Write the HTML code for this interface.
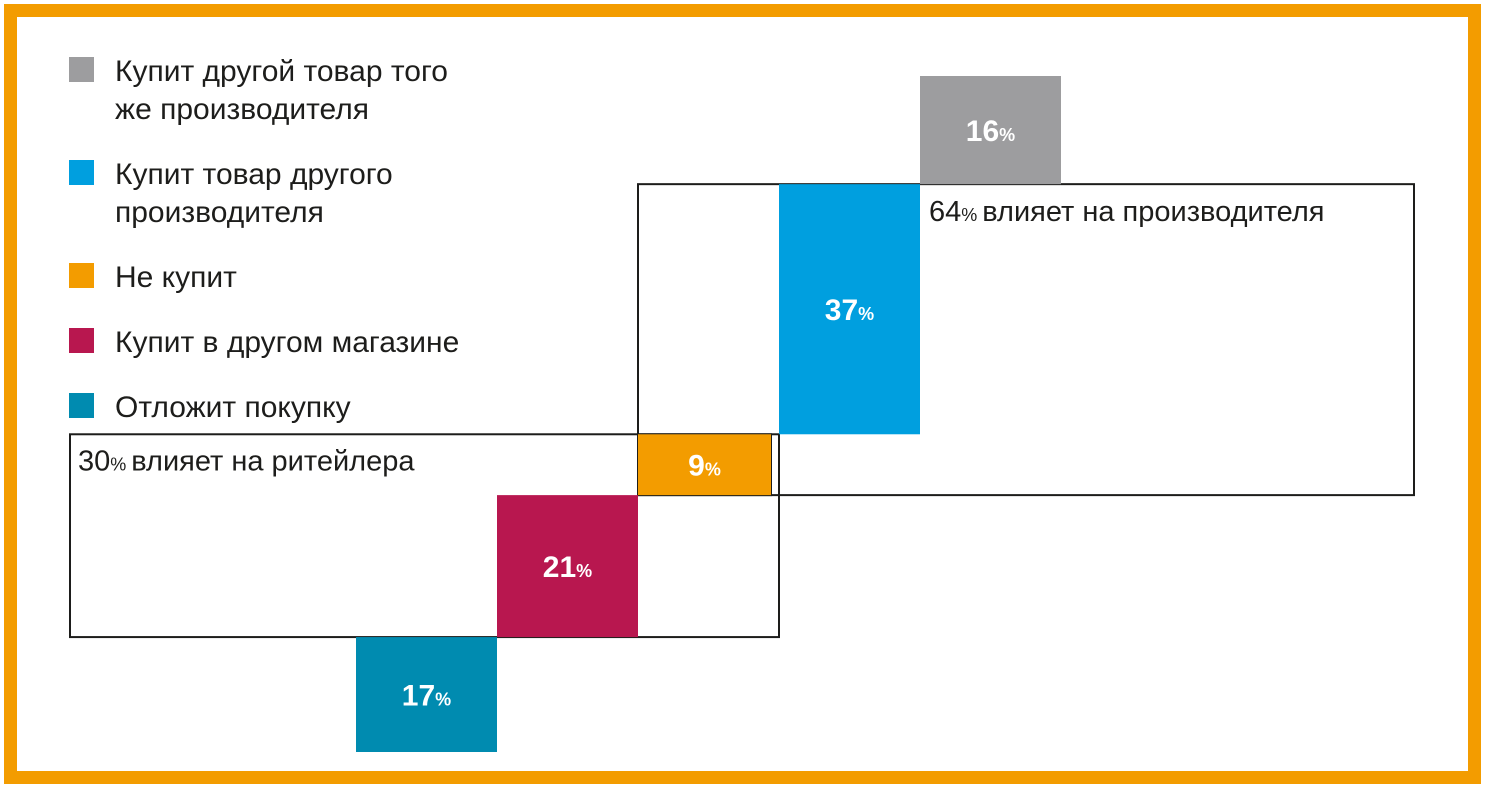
<!DOCTYPE html>
<html><head><meta charset="utf-8"><style>
html,body{margin:0;padding:0;background:#fff}
svg{display:block;font-family:"Liberation Sans",Arial,sans-serif}
</style></head><body>
<svg id="c" width="1486" height="789" viewBox="0 0 1486 789">
<rect x="10.5" y="10.5" width="1464" height="767" fill="#fff" stroke="#f39c00" stroke-width="13"/>
<g id="legend"></g>
<g id="boxes"></g>
<g id="bars"></g>
</svg>
<script>
const categories=["Отложит покупку","Купит в другом магазине","Не купит","Купит товар другого производителя","Купит другой товар того же производителя"];
const values=[17,21,9,37,16];
const colors=["#008bb0","#b8174f","#f39c00","#009fdf","#9d9d9f"];
const legendOrder=[4,3,2,1,0];
const legendLines=[["Купит другой товар того","же производителя"],["Купит товар другого","производителя"],["Не купит"],["Купит в другом магазине"],["Отложит покупку"]];
const retailerShare=30, producerShare=64;
const NS="http://www.w3.org/2000/svg";
const x0=356, barW=141, yBase=752, pxPer=6.76;
const xAt=i=>x0+i*barW;
function yAt(v){return yBase-v*pxPer;}
function mk(t,a,p){const e=document.createElementNS(NS,t);for(const k in a)e.setAttribute(k,a[k]);p.appendChild(e);return e;}
const bars=document.getElementById('bars'), boxes=document.getElementById('boxes'), leg=document.getElementById('legend');
let cum=0; const tops=[],bots=[];
values.forEach((v,i)=>{
  const yb=yAt(cum), yt=yAt(cum+v); tops.push(yt); bots.push(yb);
  const r=mk('rect',{x:xAt(i),y:yt,width:barW,height:yb-yt,fill:colors[i]},bars);
  
  
  const t=mk('text',{x:xAt(i)+barW/2,y:(yt+yb)/2+11,'text-anchor':'middle',fill:'#fff','font-weight':'bold','font-size':30},bars);
  
  
  t.textContent=v;
  const s=mk('tspan',{'font-size':18},t); s.textContent='%';
  cum+=v;
});
// retailer box: spans bars 0..2 region
const rb=mk('rect',{x:70,y:tops[2],width:xAt(3)-70,height:bots[1]-tops[2],fill:'none',stroke:'#1d1d1b','stroke-width':2},boxes);


const pb=mk('rect',{x:xAt(2),y:tops[3],width:1414-xAt(2),height:bots[2]-tops[3],fill:'none',stroke:'#1d1d1b','stroke-width':2},boxes);


const ob=mk('rect',{x:xAt(2),y:tops[2],width:barW-8,height:bots[2]-tops[2],fill:'none',stroke:'#1d1d1b','stroke-width':2},boxes);


bars.querySelectorAll('rect')[2].setAttribute('width',barW-8);
bars.querySelectorAll('text')[2].setAttribute('x',xAt(2)+(barW-8)/2);
function boxLabel(x,y,n,txt,name){const t=mk('text',{x:x,y:y,'font-size':29,fill:'#1d1d1b'},boxes);
  
  
  t.appendChild(document.createTextNode(n));const s=mk('tspan',{'font-size':18},t);s.textContent='% ';t.appendChild(document.createTextNode(txt));}
boxLabel(78,tops[2]+36,retailerShare,'влияет на ритейлера','retailer-label');
boxLabel(929,tops[3]+37,producerShare,'влияет на производителя','producer-label');
let ly=57;
legendOrder.forEach((ci,k)=>{
  const sq=mk('rect',{x:69,y:ly,width:25,height:25,fill:colors[ci]},leg);
  
  
  legendLines[k].forEach((ln,j)=>{const t=mk('text',{x:115,y:ly+24+j*38,'font-size':30,fill:'#1d1d1b'},leg);
    
    
    t.textContent=ln;});
  ly+= legendLines[k].length===2?103:65;
});
</script>
</body></html>
